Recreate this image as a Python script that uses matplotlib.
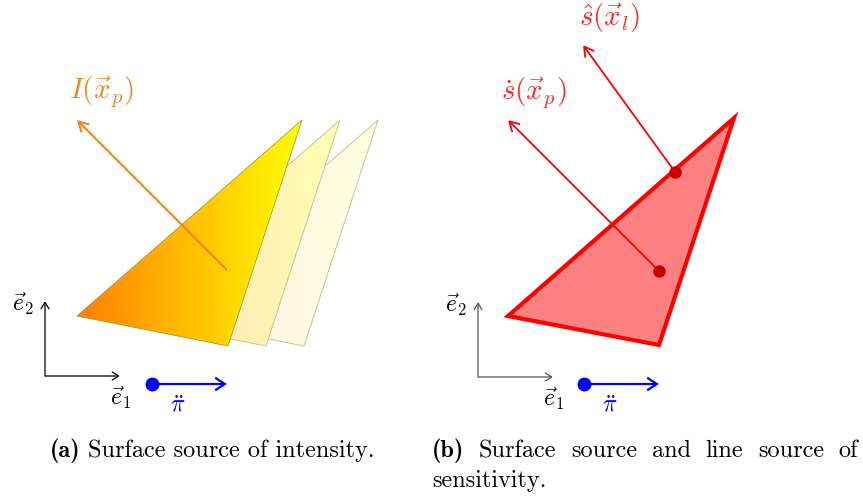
import numpy as np
import matplotlib.pyplot as plt
from matplotlib.patches import Polygon, FancyArrowPatch
from matplotlib.colors import LinearSegmentedColormap

plt.rcParams['mathtext.fontset'] = 'cm'

# ---- geometry (figure pixels, y downwards) ----
tri_a = [(77, 316), (302, 120), (228, 346)]      # surface source, panel (a)
copy_shift = [38, 76]                              # faded copies of the source
copy_alpha = [0.30, 0.12]
ray_a = [(227, 270), (77, 120)]                   # I(x_p)

tri_b = [(508, 316), (734, 118), (659, 345)]      # surface source, panel (b)
ray_bp = [(659, 271), (508, 120)]                 # s dot (x_p)
ray_bl = [(675, 172), (583, 45)]                  # s hat (x_l)

basis_origin = [(45, 376), (478, 377)]
basis_len = 75
pi_start = [(152, 384), (584, 384)]
pi_len = 75

labels_a = {'I': (r'$I(\vec{x}_p)$', (101, 92))}
labels_b = {'sl': (r'$\hat{s}(\vec{x}_l)$', (610, 18)),
            'sp': (r'$\dot{s}(\vec{x}_p)$', (534, 93))}

caption_a = ('(a)', 'Surface source of intensity.', 50, 451)
caption_b = ('(b)', 'Surface source and line source of', 432, 858, 451)
caption_b2 = ('sensitivity.', 432, 481)

fig = plt.figure(figsize=(8.63, 4.97), dpi=100)
ax = fig.add_axes([0, 0, 1, 1])
ax.axis('off')
ax.set_xlim(0, 863)
ax.set_ylim(497, 0)

orange = '#FF8000'
cmap = LinearSegmentedColormap.from_list('src', [orange, '#FFFF00'])
grad = np.linspace(0, 1, 256).reshape(1, -1)


def shaded_triangle(pts, alpha, edge, lw, z):
    xs = [p[0] for p in pts]
    ys = [p[1] for p in pts]
    # white underlay so a faded copy hides whatever sits behind it
    ax.add_patch(Polygon(pts, closed=True, facecolor='white', edgecolor='none', zorder=z))
    poly = Polygon(pts, closed=True, facecolor='none', edgecolor=edge,
                   lw=lw, zorder=z + 0.4)
    ax.add_patch(poly)
    im = ax.imshow(grad, cmap=cmap, extent=(min(xs), max(xs), max(ys), min(ys)),
                   aspect='auto', alpha=alpha, zorder=z + 0.2, interpolation='bilinear')
    im.set_clip_path(poly)


def arrow(p0, p1, color, lw, head=(6, 3.2), z=5):
    a = FancyArrowPatch(p0, p1, arrowstyle=f'->,head_length={head[0]},head_width={head[1]}',
                        color=color, lw=lw, shrinkA=0, shrinkB=0, zorder=z,
                        mutation_scale=1, joinstyle='miter', capstyle='butt')
    ax.add_patch(a)


# ---- panel (a) ----
for k, (dx, al) in enumerate(zip(copy_shift[::-1], copy_alpha[::-1])):
    pts = [(x + dx, y) for x, y in tri_a]
    shaded_triangle(pts, al, '#C8C0A0', 0.7, 1 + k)
shaded_triangle(tri_a, 1.0, '#9C8A3C', 0.5, 3)
arrow(ray_a[0], ray_a[1], '#F5821F', 1.5, head=(7, 4))
txt, pos = labels_a['I']
ax.text(*pos, txt, color='#F5821F', fontsize=21, ha='center', va='center')

# ---- panel (b) ----
ax.add_patch(Polygon(tri_b, closed=True, facecolor='#FF8080', edgecolor='#FF0000',
                     lw=3, joinstyle='miter', zorder=3))
for ray in (ray_bp, ray_bl):
    arrow(ray[0], ray[1], '#FF0000', 1.3, head=(7, 4))
    ax.plot(*ray[0], 'o', color='#C80000', ms=8, zorder=6)
for txt, pos in labels_b.values():
    ax.text(*pos, txt, color='#FF2828', fontsize=21, ha='center', va='center')

# ---- basis vectors and pi arrow ----
for (ox, oy), (px, py), gray in zip(basis_origin, pi_start, ['black', '#555555']):
    arrow((ox, oy), (ox + basis_len, oy), gray, 0.9, head=(5, 3))
    arrow((ox, oy + 0.5), (ox, oy - basis_len), gray, 0.9, head=(5, 3))
    ax.text(ox - 22, oy - 72, r'$\vec{e}_2$', fontsize=17, ha='center', va='center')
    ax.text(ox + 75, oy + 22, r'$\vec{e}_1$', fontsize=17, ha='center', va='center')
    arrow((px, py), (px + pi_len, py), '#0000FF', 1.6, head=(7, 4.5))
    ax.plot(px, py, 'o', color='#0000FF', ms=9, zorder=6)
    ax.text(px + 26, py + 21, r'$\ddot{\pi}$', fontsize=17, color='#0000FF',
            ha='center', va='center')

# ---- captions ----
cap_size = 17.5
renderer = fig.canvas.get_renderer()
to_data = ax.transData.inverted()


def text_width(t):
    bb = t.get_window_extent(renderer)
    (x0, _), (x1, _) = to_data.transform([(bb.x0, bb.y0), (bb.x1, bb.y1)])
    return x1 - x0


tag, body, x, y = caption_a
t = ax.text(x, y, tag, family='cmb10', fontsize=cap_size, va='center', ha='left')
ax.text(x + text_width(t) + 7, y, body, family='cmr10', fontsize=cap_size,
        va='center', ha='left')

# second caption: first line set flush to both margins
tag, body, x0, x1, y = caption_b
items = [ax.text(0, y, tag, family='cmb10', fontsize=cap_size, va='center', ha='left')]
items += [ax.text(0, y, w, family='cmr10', fontsize=cap_size, va='center', ha='left')
          for w in body.split()]
widths = [text_width(it) for it in items]
gap = (x1 - x0 - sum(widths)) / (len(items) - 1)
cx = x0
for it, w in zip(items, widths):
    it.set_x(cx)
    cx += w + gap
word, x, y = caption_b2
ax.text(x, y, word, family='cmr10', fontsize=cap_size, va='center', ha='left')

fig.savefig('out.png', dpi=100)
